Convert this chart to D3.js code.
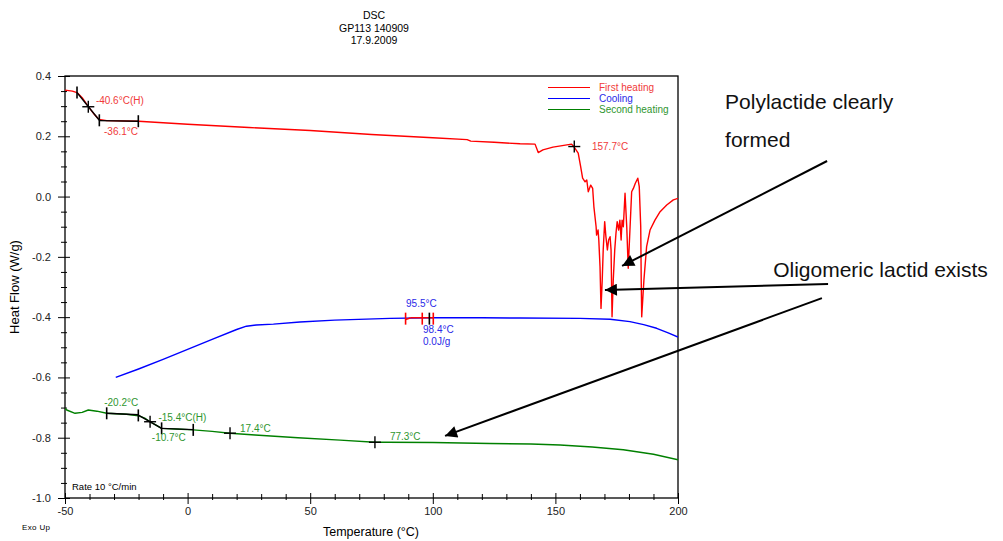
<!DOCTYPE html>
<html><head><meta charset="utf-8">
<script src="https://cdn.jsdelivr.net/npm/d3@7"></script>
<style>body{margin:0;background:#fff}svg{display:block;font-family:Arial,"Liberation Sans",sans-serif}</style>
</head><body><svg id="c" width="1003" height="541"></svg>
<script>
// ---- data (Temperature °C, Heat Flow W/g) ----
const titleLines = ["DSC", "GP113 140909", "17.9.2009"];
const seriesNames = ["First heating", "Cooling", "Second heating"];
const seriesColors = ["#ff0000", "#0000ff", "#008000"];
const labelColors = ["#f03a3a", "#2a2ae8", "#2f962f"];
const xTicks = [-50, 0, 50, 100, 150, 200];
const yTicks = [-1.0, -0.8, -0.6, -0.4, -0.2, 0.0, 0.2, 0.4];

const firstHeating = [
  [-50,0.353],[-47,0.350],[-45.1,0.345],[-43,0.328],[-40.6,0.300],[-38,0.272],[-36.1,0.256],[-33,0.252],
  [-20,0.250],[0,0.240],[25,0.229],[50,0.219],[75,0.206],[100,0.195],[114,0.189],[115.5,0.184],
  [125,0.180],[135.6,0.175],[141.7,0.174],[143.0,0.146],[144.9,0.155],[149.0,0.164],[156.6,0.174],
  [157.6,0.165],[159.3,0.144],[160.3,0.099],[161.1,0.061],[162.1,0.049],[162.8,0.055],[163.4,0.016],
  [164.4,0.038],[165.2,0.027],[165.7,-0.034],[166.6,-0.100],[166.8,-0.128],[167.4,-0.111],[167.7,-0.144],
  [168.2,-0.233],[168.6,-0.371],[169.1,-0.277],[169.5,-0.177],[170.1,-0.083],[170.6,-0.133],[171.2,-0.177],
  [171.7,-0.144],[172.3,-0.133],[172.7,-0.177],[173.1,-0.399],[173.6,-0.277],[174.2,-0.177],[174.7,-0.122],
  [175.2,-0.083],[175.8,-0.111],[176.3,-0.078],[176.8,-0.144],[177.2,-0.078],[177.7,-0.100],[178.4,0.011],
  [179.1,-0.100],[179.7,-0.238],[180.4,-0.111],[181.1,0.016],[181.8,0.027],[182.6,0.044],[183.6,0.061],
  [184.2,0.033],[184.8,-0.100],[185.0,-0.277],[185.2,-0.399],[186.1,-0.277],[187.2,-0.166],[188.6,-0.111],
  [190.6,-0.078],[192.7,-0.050],[195.4,-0.028],[198.1,-0.011],[200,-0.006]
];
const cooling = [
  [-29.3,-0.600],[-20,-0.572],[-10,-0.540],[0,-0.507],[10,-0.474],[20,-0.441],[24,-0.430],
  [28,-0.426],[35,-0.423],[45.8,-0.416],[60,-0.410],[82.5,-0.404],[100,-0.402],[120,-0.402],
  [135.6,-0.403],[160,-0.404],[172.3,-0.407],[180.4,-0.415],[186,-0.425],[191.3,-0.437],
  [196,-0.452],[200,-0.466]
];
const secondHeating = [
  [-50,-0.703],[-49.3,-0.708],[-45.9,-0.719],[-43,-0.716],[-40.5,-0.708],[-37,-0.712],[-33,-0.719],
  [-25,-0.722],[-20.1,-0.727],[-17.5,-0.735],[-15.3,-0.747],[-12.5,-0.760],[-10.6,-0.769],
  [-5,-0.771],[2.3,-0.774],[10,-0.779],[17.3,-0.785],[27.5,-0.791],[45,-0.800],[62.2,-0.808],
  [76.4,-0.815],[81.2,-0.815],[100,-0.816],[123.3,-0.819],[140,-0.821],[151.9,-0.824],
  [165,-0.831],[177.7,-0.840],[190,-0.855],[200,-0.873]
];
const seriesData = [firstHeating, cooling, secondHeating];

// analysis marks: [type, T, HF, color]
const marks = [
  ["tick",-45.1,0.345,"#000"],["plus",-40.5,0.298,"#000"],["tick",-36.0,0.253,"#000"],["tick",-20.1,0.250,"#000"],
  ["plus",157.7,0.166,"#000"],
  ["tick",88.9,-0.405,"#ff0000"],["tick",95.7,-0.405,"#ff0000"],["tick",98.6,-0.405,"#000"],["tick",100.2,-0.405,"#ff0000"],
  ["tick",-33.0,-0.719,"#000"],["tick",-20.1,-0.726,"#000"],["plus",-15.3,-0.747,"#000"],["tick",-10.6,-0.769,"#000"],
  ["tick",2.3,-0.774,"#000"],["plus",17.3,-0.785,"#000"],["plus",76.4,-0.815,"#000"]
];
const tangents = [
  [[-45.1,0.345],[-36.0,0.253],"#000"],[[-36.0,0.252],[-20.1,0.250],"#000"],
  [[88.9,-0.408],[91,-0.402],"#ff0000"],[[91,-0.402],[100.2,-0.402],"#ff0000"],
  [[-33,-0.719],[-20.1,-0.724],"#000"],[[-20.1,-0.725],[-10.6,-0.769],"#000"],[[-10.6,-0.769],[2.3,-0.773],"#000"]
];
// labels: [text, T, HF, series index]
const labels = [
  ["-40.6°C(H)",-37.4,0.307,0],["-36.1°C",-34.1,0.204,0],["157.7°C",164.9,0.156,0],
  ["95.5°C",89.1,-0.368,1],["98.4°C",96.0,-0.453,1],["0.0J/g",96.0,-0.493,1],
  ["-20.2°C",-34.0,-0.696,2],["-15.4°C(H)",-11.9,-0.745,2],["-10.7°C",-14.6,-0.812,2],
  ["17.4°C",21.4,-0.781,2],["77.3°C",82.5,-0.806,2]
];
// callouts outside plot: text lines and arrows (data units)
const calloutText = [["Polylactide clearly",219.2,0.289],["formed",219.2,0.164],["Oligomeric lactid exists",238.8,-0.266]];
const arrows = [[[260.8,0.118],[177.2,-0.230]],[[261.2,-0.290],[170.2,-0.310]],[[258.7,-0.337],[105.0,-0.794]]];

// ---- drawing ----
const svg = d3.select("#c");
const x = d3.scaleLinear().domain([-50,200]).range([65,678]);
const y = d3.scaleLinear().domain([-1,0.4]).range([498,76]);

// title
svg.append("g").selectAll("text").data(titleLines).join("text")
  .attr("x",374).attr("y",(d,i)=>19+i*12.5).attr("text-anchor","middle")
  .attr("font-size",10.5).text(d=>d);

// frame
svg.append("rect").attr("x",x(-50)).attr("y",y(0.4)).attr("width",x(200)-x(-50)).attr("height",y(-1)-y(0.4))
  .attr("fill","none").attr("stroke","#000").attr("stroke-width",1.3);

// axes
const fmt = d => d.toFixed(1);
const yAx = svg.append("g").attr("transform",`translate(${x(-50)},0)`)
  .call(d3.axisLeft(y).tickValues(yTicks).tickFormat(fmt).tickSize(7).tickPadding(7));
yAx.select(".domain").remove();
yAx.selectAll(".tick line").attr("x2",-7).attr("x1",5);
yAx.selectAll("text").attr("font-size",11).attr("font-family","Arial,'Liberation Sans',sans-serif").attr("fill","#222");
const yMin = svg.append("g").attr("transform",`translate(${x(-50)},0)`)
  .call(d3.axisLeft(y).tickValues(d3.range(-1,0.4001,0.05).filter(v=>Math.abs(Math.round(v*5)-v*5)>1e-6)).tickFormat("").tickSize(4));
yMin.select(".domain").remove();
yMin.selectAll(".tick line").attr("x1",2);

const xAx = svg.append("g").attr("transform",`translate(0,${y(-1)})`)
  .call(d3.axisBottom(x).tickValues(xTicks).tickFormat(d=>d).tickSize(6).tickPadding(3));
xAx.select(".domain").remove();
xAx.selectAll(".tick line").attr("y1",-5);
xAx.selectAll("text").attr("font-size",11).attr("font-family","Arial,'Liberation Sans',sans-serif").attr("fill","#222");
const xMin = svg.append("g").attr("transform",`translate(0,${y(-1)})`)
  .call(d3.axisBottom(x).tickValues(d3.range(-40,200,10).filter(v=>v%50!==0)).tickFormat("").tickSize(2));
xMin.select(".domain").remove();
xMin.selectAll(".tick line").attr("y1",-4);

// axis titles
svg.append("text").attr("transform",`translate(19,${287}) rotate(-90)`).attr("text-anchor","middle")
  .attr("font-size",13).text("Heat Flow (W/g)");
svg.append("text").attr("x",371).attr("y",536).attr("text-anchor","middle").attr("font-size",12.5).text("Temperature (°C)");
svg.append("text").attr("x",22).attr("y",530).attr("font-size",8).attr("textLength",28).text("Exo Up");
svg.append("text").attr("x",72).attr("y",490).attr("font-size",9.5).text("Rate 10 °C/min");

// curves
const line = d3.line().x(d=>x(d[0])).y(d=>y(d[1]));
const clip = svg.append("clipPath").attr("id","pc").append("rect")
  .attr("x",x(-50)).attr("y",y(0.4)).attr("width",x(200)-x(-50)).attr("height",y(-1)-y(0.4));
svg.append("g").attr("clip-path","url(#pc)").selectAll("path").data(seriesData).join("path")
  .attr("d",line).attr("fill","none").attr("stroke",(d,i)=>seriesColors[i]).attr("stroke-width",1.4)
  .attr("stroke-linejoin","round");

// tangents
svg.append("g").selectAll("line").data(tangents).join("line")
  .attr("x1",d=>x(d[0][0])).attr("y1",d=>y(d[0][1])).attr("x2",d=>x(d[1][0])).attr("y2",d=>y(d[1][1]))
  .attr("stroke",d=>d[2]).attr("stroke-width",1.4);

// marks
const mg = svg.append("g");
marks.forEach(m=>{
  const cx = x(m[1]), cy = y(m[2]);
  if (m[0]==="tick") {
    mg.append("line").attr("x1",cx).attr("x2",cx).attr("y1",cy-6).attr("y2",cy+6).attr("stroke",m[3]).attr("stroke-width",1.6);
  } else {
    mg.append("line").attr("x1",cx-6).attr("x2",cx+6).attr("y1",cy).attr("y2",cy).attr("stroke",m[3]).attr("stroke-width",1.4);
    mg.append("line").attr("x1",cx).attr("x2",cx).attr("y1",cy-6).attr("y2",cy+6).attr("stroke",m[3]).attr("stroke-width",1.4);
  }
});

// labels
svg.append("g").selectAll("text").data(labels).join("text")
  .attr("x",d=>x(d[1])).attr("y",d=>y(d[2])).attr("font-size",10).attr("fill",d=>labelColors[d[3]]).text(d=>d[0]);

// legend
const lg = svg.append("g");
seriesNames.forEach((n,i)=>{
  lg.append("line").attr("x1",548).attr("x2",590).attr("y1",87.5+i*11).attr("y2",87.5+i*11)
    .attr("stroke",seriesColors[i]).attr("stroke-width",1);
  lg.append("text").attr("x",599).attr("y",91+i*11).attr("font-size",10).attr("fill",labelColors[i]).text(n);
});

// callouts
svg.append("g").selectAll("text").data(calloutText).join("text")
  .attr("x",d=>x(d[1])).attr("y",d=>y(d[2])).attr("font-size",21).attr("fill","#111").text(d=>d[0]);
svg.append("defs").append("marker").attr("id","ah").attr("viewBox","0 0 10 10").attr("refX",10).attr("refY",5)
  .attr("markerWidth",20).attr("markerHeight",12).attr("markerUnits","userSpaceOnUse").attr("orient","auto")
  .append("path").attr("d","M0,0L10,5L0,10Z").attr("fill","#000");
svg.append("g").selectAll("line").data(arrows).join("line")
  .attr("x1",d=>x(d[0][0])).attr("y1",d=>y(d[0][1])).attr("x2",d=>x(d[1][0])).attr("y2",d=>y(d[1][1]))
  .attr("stroke","#000").attr("stroke-width",2).attr("marker-end","url(#ah)");
</script></body></html>
